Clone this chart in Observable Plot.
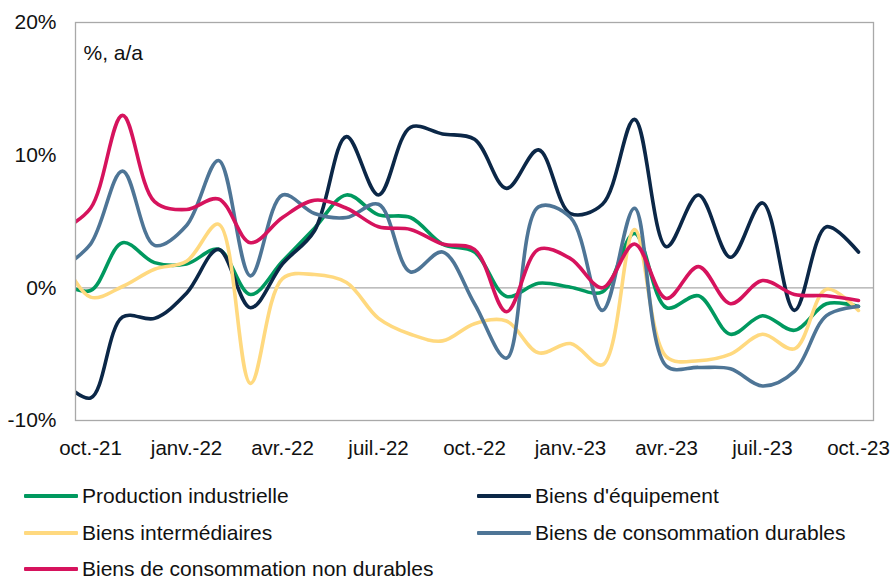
<!DOCTYPE html>
<html>
<head>
<meta charset="utf-8">
<script src="https://cdn.jsdelivr.net/npm/d3@7"></script>
<script src="https://cdn.jsdelivr.net/npm/@observablehq/plot@0.6"></script>
<style>
  html, body { margin: 0; padding: 0; background: #fff; }
  body { width: 892px; height: 580px; position: relative; overflow: hidden; font-family: "Liberation Sans", Arial, sans-serif; color: #111; }
  #chart { position: absolute; left: 0; top: 0; }
  .leg { position: absolute; display: flex; align-items: center; font-size: 21px; line-height: 20px; height: 20px; white-space: nowrap; }
  .sw { width: 54px; height: 4px; margin-right: 4px; border-radius: 1px; }
</style>
</head>
<body>
<div id="chart"></div>
<div id="legend"></div>
<script>
// Month labels (sep-21 .. oct-23); sep-21 lies just outside the plotted range and is clipped
const months = ["sept.-21","oct.-21","nov.-21","déc.-21","janv.-22","févr.-22","mars-22","avr.-22","mai-22","juin-22","juil.-22","août-22","sept.-22","oct.-22","nov.-22","déc.-22","janv.-23","févr.-23","mars-23","avr.-23","mai-23","juin-23","juil.-23","août-23","sept.-23","oct.-23"];
const tickLabels = ["oct.-21","janv.-22","avr.-22","juil.-22","oct.-22","janv.-23","avr.-23","juil.-23","oct.-23"];

const seriesNames = ["Production industrielle","Biens d'équipement","Biens intermédiaires","Biens de consommation durables","Biens de consommation non durables"];
const seriesColors = ["#00995f","#0b2747","#ffd97f","#4e7596","#d6135d"];

const production   = [0.4,-0.2,3.4,1.9,1.8,2.9,-0.5,2.0,4.5,7.0,5.5,5.3,3.3,2.7,-0.65,0.35,0.05,-0.3,4.1,-1.5,-0.6,-3.5,-2.1,-3.2,-1.2,-1.4];
const equipement   = [-6.8,-8.3,-2.2,-2.3,-0.4,2.9,-1.5,1.8,4.3,11.4,7.0,12.1,11.6,11.2,7.5,10.4,5.6,6.3,12.7,3.1,7.0,2.3,6.4,-1.7,4.6,2.7];
const intermediaires = [2.8,-0.7,0.1,1.4,2.0,4.8,-7.2,0.7,1.0,0.4,-2.3,-3.5,-4.0,-2.7,-2.5,-4.9,-4.2,-5.8,4.4,-5.2,-5.5,-5.0,-3.5,-4.6,-0.1,-1.7];
const durables     = [1.3,3.3,8.8,3.2,4.7,9.6,0.9,7.0,5.6,5.3,6.3,1.2,2.7,-1.2,-5.3,6.1,5.3,-1.7,6.0,-5.9,-6.0,-6.1,-7.4,-6.3,-2.1,-1.4];
const nonDurables  = [4.2,6.0,13.0,6.5,5.9,6.7,3.4,5.3,6.6,6.0,4.6,4.4,3.3,2.9,-1.8,2.9,2.2,0.0,3.3,-0.8,1.6,-1.2,0.55,-0.5,-0.6,-0.95];

const allSeries = [production, equipement, intermediaires, durables, nonDurables];
const rows = [];
allSeries.forEach((vals, s) => vals.forEach((v, i) => rows.push({series: seriesNames[s], i: i - 1, month: months[i], value: v})));

const chart = Plot.plot({
  width: 892,
  height: 465,
  marginLeft: 75,
  marginRight: 19,
  marginTop: 22,
  marginBottom: 45,
  style: {fontFamily: '"Liberation Sans", Arial, sans-serif', fontSize: "20px", color: "#111", background: "#fff"},
  x: {type: "linear", domain: [-0.47, 24.47]},
  y: {domain: [-10, 20]},
  color: {domain: seriesNames, range: seriesColors},
  marks: [
    Plot.ruleY([0], {stroke: "#a9a9a9", strokeWidth: 1.3}),
    Plot.line(rows, {x: "i", y: "value", z: "series", stroke: "series", strokeWidth: 3.6, curve: "catmull-rom", clip: true}),
    Plot.frame({stroke: "#a9a9a9", strokeWidth: 1.3}),
    Plot.axisY({ticks: [-10, 0, 10, 20], tickSize: 0, tickPadding: 19, tickFormat: d => d + "%", fontSize: 21, label: null}),
    Plot.axisX({ticks: d3.range(0, 25, 3), tickSize: 0, tickPadding: 20, tickFormat: (d, k) => tickLabels[k], fontSize: 20.5, label: null}),
    Plot.text(["%, a/a"], {frameAnchor: "top-left", dx: 8, dy: 23, textAnchor: "start", fontSize: 21, fill: "#111"})
  ]
});
document.getElementById("chart").appendChild(chart);

// Legend below the chart
const legendPos = [[24, 496], [477, 496], [24, 533], [477, 533], [24, 569]];
const legend = document.getElementById("legend");
seriesNames.forEach((name, k) => {
  const d = document.createElement("div");
  d.className = "leg";
  d.style.left = legendPos[k][0] + "px";
  d.style.top = (legendPos[k][1] - 10) + "px";
  const sw = document.createElement("span");
  sw.className = "sw";
  sw.style.background = seriesColors[k];
  const t = document.createElement("span");
  t.textContent = name;
  d.appendChild(sw); d.appendChild(t);
  legend.appendChild(d);
});
</script>
</body>
</html>
